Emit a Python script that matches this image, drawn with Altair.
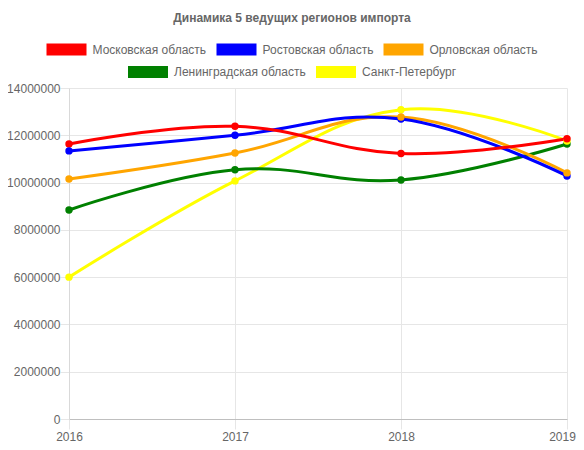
import altair as alt
import pandas as pd

years = [2016, 2017, 2018, 2019]
series_names = [
    "Московская область",
    "Ростовская область",
    "Орловская область",
    "Ленинградская область",
    "Санкт-Петербург",
]
series_colors = ["#ff0000", "#0000ff", "#ffa500", "#008000", "#ffff00"]

moscow = [11630000, 12380000, 11230000, 11850000]
rostov = [11340000, 12000000, 12690000, 10280000]
orel = [10150000, 11250000, 12770000, 10410000]
leningrad = [8840000, 10540000, 10110000, 11630000]
spb = [6000000, 10070000, 13080000, 11760000]
all_values = [moscow, rostov, orel, leningrad, spb]

y_ticks = [0, 2000000, 4000000, 6000000, 8000000, 10000000, 12000000, 14000000]

rows = []
for name, vals in zip(series_names, all_values):
    for yr, v in zip(years, vals):
        rows.append({"year": yr, "value": v, "region": name})
df = pd.DataFrame(rows)

FONT = "Liberation Sans"
TXT = "#666666"

x_enc = alt.X(
    "year:Q",
    scale=alt.Scale(domain=[2016, 2019], nice=False, zero=False),
    axis=alt.Axis(
        values=years, format="d", title=None, grid=True, gridColor="#e6e6e6",
        tickSize=10, tickColor="#e6e6e6", domainColor="#bfbfbf",
        labelFontSize=12, labelFont=FONT, labelColor=TXT, labelPadding=2,
        labelFlush=False, labelOverlap=False, labelBound=False,
        labelOffset={"condition": {"test": "datum.value == 2019", "value": -5}, "value": 0},
    ),
)
y_enc = alt.Y(
    "value:Q",
    scale=alt.Scale(domain=[0, 14000000], nice=False),
    axis=alt.Axis(
        values=y_ticks, format="d", title=None, grid=True, gridColor="#e6e6e6",
        tickSize=9, tickColor="#e6e6e6", domainColor="#d9d9d9",
        labelFontSize=12, labelFont=FONT, labelColor=TXT, labelPadding=0,
        labelOverlap=False, labelBound=False,
    ),
)

base = alt.Chart(df)

line_layers = []
for name, col in reversed(list(zip(series_names, series_colors))):
    line_layers.append(
        base.transform_filter(alt.datum.region == name)
        .mark_line(interpolate="cardinal", tension=-0.2, strokeWidth=3)
        .encode(x=x_enc, y=y_enc, stroke=alt.value(col))
    )

legend_common = dict(
    orient="none",
    direction="horizontal",
    title=None,
    symbolType="M-1,-0.3H1V0.3H-1Z",
    symbolSize=1600,
    symbolStrokeWidth=0,
    symbolOpacity=1,
    labelFontSize=12,
    labelFont=FONT,
    labelColor=TXT,
    labelOffset=6,
    columnPadding=10,
)

names_a = series_names[:3]
cols_a = series_colors[:3]
names_b = series_names[3:]
cols_b = series_colors[3:]

points_b = (
    base.transform_filter(alt.FieldOneOfPredicate(field="region", oneOf=names_b))
    .mark_circle(size=55, opacity=1)
    .encode(
        x=x_enc, y=y_enc,
        color=alt.Color(
            "region:N",
            scale=alt.Scale(domain=names_b, range=cols_b),
            legend=alt.Legend(legendX=59, legendY=-36, **legend_common),
        ),
    )
)
points_a = (
    base.transform_filter(alt.FieldOneOfPredicate(field="region", oneOf=names_a))
    .mark_circle(size=55, opacity=1)
    .encode(
        x=x_enc, y=y_enc,
        fill=alt.Fill(
            "region:N",
            scale=alt.Scale(domain=names_a, range=cols_a),
            legend=alt.Legend(legendX=-22.5, legendY=-58.5, **legend_common),
        ),
    )
)

chart = (
    alt.layer(*line_layers, points_b, points_a)
    .resolve_scale(color="independent", fill="independent")
    .properties(
        width=498,
        height=331,
        autosize=alt.AutoSizeParams(type="none"),
        padding={"left": 61, "top": 80, "right": 9, "bottom": 23},
        title=alt.Title(
            "Динамика 5 ведущих регионов импорта",
            fontSize=12, fontWeight="bold", font=FONT, color=TXT,
            anchor="middle", dx=-26, offset=5,
        ),
    )
    .configure_view(stroke=None)
)

chart.save("out.html", embed_options={"renderer": "svg", "actions": False})
